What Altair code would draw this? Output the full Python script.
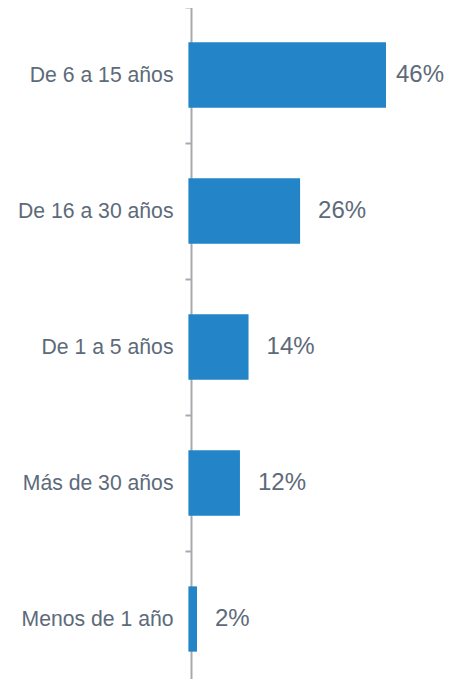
import altair as alt
import pandas as pd

categories = ["De 6 a 15 años", "De 16 a 30 años", "De 1 a 5 años", "Más de 30 años", "Menos de 1 año"]
values = [46, 26, 14, 12, 2]
labels = ["46%", "26%", "14%", "12%", "2%"]

df = pd.DataFrame({"cat": categories, "val": values, "lab": labels})

BAR = "#2385c7"
TXT = "#5d6a79"
AX = "#a7aaad"

y = alt.Y(
    "cat:N",
    sort=categories,
    title=None,
    scale=alt.Scale(paddingInner=0, paddingOuter=0),
    axis=alt.Axis(
        domainColor=AX,
        domainWidth=2,
        tickColor=AX,
        tickWidth=2,
        tickSize=6,
        tickBand="extent",
        offset=2,
        labelFont="Liberation Sans",
        labelFontSize=21.2,
        labelColor=TXT,
        labelPadding=12,
        labelLimit=300,
        grid=False,
    ),
)

x = alt.X("val:Q", axis=None, scale=alt.Scale(domain=[1.07, 46], zero=False, nice=False))

top_cat = categories[0]

bars = alt.Chart(df).mark_bar(color=BAR, height={"band": 0.48}).encode(x=x, y=y)
text_top = (
    alt.Chart(df)
    .transform_filter(alt.datum.cat == top_cat)
    .mark_text(align="left", baseline="middle", dx=10, font="Liberation Sans", fontSize=24, color=TXT)
    .encode(x=x, y=y, text="lab:N")
)
text_rest = (
    alt.Chart(df)
    .transform_filter(alt.datum.cat != top_cat)
    .mark_text(align="left", baseline="middle", dx=18, font="Liberation Sans", fontSize=24, color=TXT)
    .encode(x=x, y=y, text="lab:N")
)

chart = (
    alt.layer(bars, text_top, text_rest)
    .properties(
        width=193,
        height=680,
        autosize="none",
        padding={"left": 185, "top": -1, "right": 58, "bottom": -8},
    )
    .configure_view(stroke=None)
)

chart.save("out.html", embed_options={"renderer": "svg", "actions": False})
